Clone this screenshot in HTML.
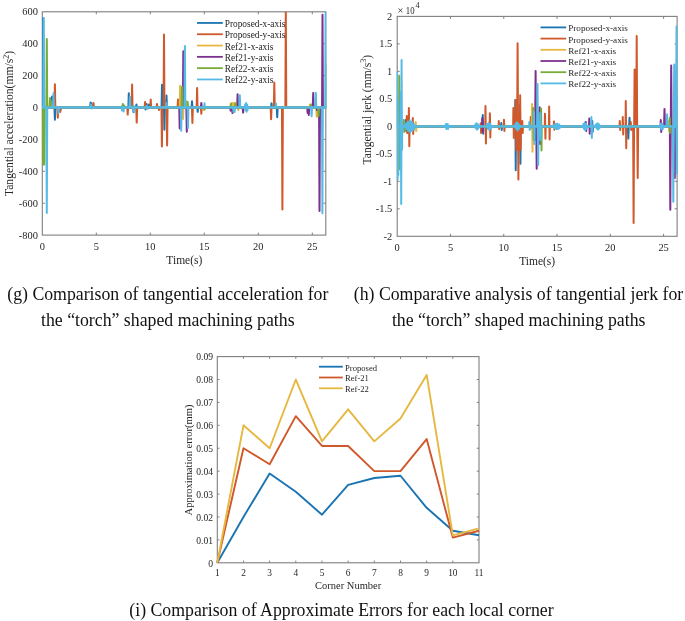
<!DOCTYPE html><html><head><meta charset="utf-8"><style>html,body{margin:0;padding:0;background:#fff;width:685px;height:621px;overflow:hidden}svg{display:block;filter:blur(0.5px)}text{font-family:"Liberation Serif", serif}</style></head><body>
<svg width="685" height="621" viewBox="0 0 685 621">
<rect width="685" height="621" fill="#fff"/>
<clipPath id="cg"><rect x="41.699999999999996" y="11.8" width="284.7" height="223.29999999999998"/></clipPath>
<rect x="42.3" y="11.8" width="283.5" height="223.29999999999998" fill="none" stroke="#7f7f7f" stroke-width="1.1"/>
<path d="M96.30,235.1 v-2.5 M96.30,11.8 v2.5 M150.30,235.1 v-2.5 M150.30,11.8 v2.5 M204.30,235.1 v-2.5 M204.30,11.8 v2.5 M258.30,235.1 v-2.5 M258.30,11.8 v2.5 M312.30,235.1 v-2.5 M312.30,11.8 v2.5 " stroke="#7f7f7f" stroke-width="1" fill="none"/>
<path d="M42.3,43.70 h2.5 M325.8,43.70 h-2.5 M42.3,75.60 h2.5 M325.8,75.60 h-2.5 M42.3,107.50 h2.5 M325.8,107.50 h-2.5 M42.3,139.40 h2.5 M325.8,139.40 h-2.5 M42.3,171.30 h2.5 M325.8,171.30 h-2.5 M42.3,203.20 h2.5 M325.8,203.20 h-2.5 " stroke="#7f7f7f" stroke-width="1" fill="none"/>
<g clip-path="url(#cg)" fill="none" stroke-width="2.0" stroke-linejoin="round">
<path d="M42.30,107.40 L42.75,107.40 L43.20,18.00 L43.65,107.40 L51.55,107.40 L52.00,96.60 L52.45,107.40 L54.45,107.40 L54.90,119.80 L55.35,107.40 L60.05,107.40 L60.50,110.00 L60.95,107.40 L90.15,107.40 L90.60,102.40 L91.05,107.40 L91.15,107.40 L91.60,103.50 L92.05,107.40 L128.35,107.40 L128.80,93.30 L129.25,107.40 L129.15,107.40 L129.60,97.00 L130.05,107.40 L133.05,107.40 L133.50,112.20 L133.95,107.40 L135.95,107.40 L136.40,104.50 L136.85,107.40 L145.15,107.40 L145.60,109.50 L146.05,107.40 L146.15,107.40 L146.60,104.00 L147.05,107.40 L148.55,107.40 L149.00,104.50 L149.45,107.40 L161.55,107.40 L162.00,84.70 L162.45,107.40 L163.95,107.40 L164.40,129.70 L164.85,107.40 L166.05,107.40 L166.50,95.50 L166.95,107.40 L191.55,107.40 L192.00,101.30 L192.45,107.40 L197.25,107.40 L197.70,111.80 L198.15,107.40 L233.55,107.40 L234.00,104.00 L234.45,107.40 L271.05,107.40 L271.50,103.30 L271.95,107.40 L276.75,107.40 L277.20,117.30 L277.65,107.40 L325.80,107.40" stroke="#1a74b2"/>
<path d="M42.30,107.40 L54.45,107.40 L54.90,84.30 L55.35,107.40 L57.35,107.40 L57.80,117.80 L58.25,107.40 L59.75,107.40 L60.20,112.00 L60.65,107.40 L93.05,107.40 L93.50,103.00 L93.95,107.40 L127.25,107.40 L127.70,114.60 L128.15,107.40 L131.65,107.40 L132.10,84.40 L132.55,107.40 L136.25,107.40 L136.70,122.60 L137.15,107.40 L144.65,107.40 L145.10,101.90 L145.55,107.40 L147.55,107.40 L148.00,108.50 L148.45,107.40 L150.25,107.40 L150.70,99.50 L151.15,107.40 L156.55,107.40 L157.00,104.00 L157.45,107.40 L158.55,107.40 L159.00,110.00 L159.45,107.40 L161.45,107.40 L161.90,146.40 L162.35,107.40 L163.55,107.40 L164.00,34.40 L164.45,107.40 L166.65,107.40 L167.10,145.40 L167.55,107.40 L177.55,107.40 L178.00,99.50 L178.45,107.40 L191.95,107.40 L192.40,123.00 L192.85,107.40 L196.65,107.40 L197.10,88.00 L197.55,107.40 L200.85,107.40 L201.30,113.80 L201.75,107.40 L270.65,107.40 L271.10,119.30 L271.55,107.40 L273.85,107.40 L274.30,82.60 L274.75,107.40 L281.95,107.40 L282.40,209.60 L282.85,107.40 L285.35,107.40 L285.80,8.00 L286.25,107.40 L325.80,107.40" stroke="#d0582a"/>
<path d="M42.30,107.40 L50.05,107.40 L50.50,101.00 L50.95,107.40 L179.65,107.40 L180.10,85.70 L180.55,107.40 L182.55,107.40 L183.00,119.00 L183.45,107.40 L185.55,107.40 L186.00,101.00 L186.45,107.40 L203.05,107.40 L203.50,110.00 L203.95,107.40 L231.05,107.40 L231.50,103.00 L231.95,107.40 L232.55,107.40 L233.00,103.00 L233.45,107.40 L234.35,107.40 L234.80,103.00 L235.25,107.40 L237.85,107.40 L238.30,110.20 L238.75,107.40 L309.55,107.40 L310.00,104.60 L310.45,107.40 L316.25,107.40 L316.70,116.60 L317.15,107.40 L317.15,107.40 L317.60,116.60 L318.05,107.40 L325.80,107.40" stroke="#e6b840"/>
<path d="M42.30,107.40 L179.25,107.40 L179.70,128.60 L180.15,107.40 L182.85,107.40 L183.30,51.20 L183.75,107.40 L186.35,107.40 L186.80,131.80 L187.25,107.40 L200.85,107.40 L201.30,102.90 L201.75,107.40 L230.15,107.40 L230.60,110.70 L231.05,107.40 L232.05,107.40 L232.50,113.10 L232.95,107.40 L237.15,107.40 L237.60,94.30 L238.05,107.40 L242.65,107.40 L243.10,112.60 L243.55,107.40 L307.15,107.40 L307.60,113.00 L308.05,107.40 L308.35,107.40 L308.80,114.90 L309.25,107.40 L312.75,107.40 L313.20,93.00 L313.65,107.40 L316.55,107.40 L317.00,110.00 L317.45,107.40 L319.05,107.40 L319.50,211.10 L319.95,107.40 L322.05,107.40 L322.50,14.70 L322.95,107.40 L325.80,107.40" stroke="#7c318f"/>
<path d="M42.30,107.40 L42.65,107.40 L43.10,164.40 L43.55,107.40 L43.85,107.40 L44.30,164.40 L44.75,107.40 L46.35,107.40 L46.80,39.00 L47.25,107.40 L49.55,107.40 L50.00,98.00 L50.45,107.40 L122.35,107.40 L122.80,104.10 L123.25,107.40 L123.75,107.40 L124.20,105.50 L124.65,107.40 L181.55,107.40 L182.00,87.00 L182.45,107.40 L187.15,107.40 L187.60,101.70 L188.05,107.40 L204.05,107.40 L204.50,109.50 L204.95,107.40 L230.35,107.40 L230.80,104.00 L231.25,107.40 L235.05,107.40 L235.50,103.50 L235.95,107.40 L310.55,107.40 L311.00,104.60 L311.45,107.40 L318.15,107.40 L318.60,116.00 L319.05,107.40 L326.05,107.40 L326.50,64.50 L326.95,107.40 L325.80,107.40" stroke="#78ab38"/>
<line x1="42.3" y1="107.4" x2="325.8" y2="107.4" stroke="#55bbe6" stroke-width="1.6"/>
<path d="M42.30,107.40 L43.25,107.40 L43.70,17.90 L44.15,107.40 L46.35,107.40 L46.80,213.00 L47.25,107.40 L53.05,107.40 L53.50,93.20 L53.95,107.40 L58.05,107.40 L58.50,113.00 L58.95,107.40 L90.85,107.40 L91.08,104.50 L91.53,108.50 L91.75,107.40 L121.35,107.40 L121.58,106.50 L122.03,110.50 L122.25,107.40 L122.95,107.40 L123.18,107.00 L123.63,111.50 L123.85,107.40 L129.45,107.40 L129.90,97.00 L130.35,107.40 L133.35,107.40 L133.58,106.00 L134.03,112.00 L134.25,107.40 L146.55,107.40 L146.78,106.00 L147.22,108.50 L147.45,107.40 L166.05,107.40 L166.50,103.00 L166.95,107.40 L180.75,107.40 L181.20,130.70 L181.65,107.40 L184.45,107.40 L184.90,45.90 L185.35,107.40 L187.55,107.40 L188.00,128.00 L188.45,107.40 L204.05,107.40 L204.50,103.30 L204.95,107.40 L233.05,107.40 L233.50,112.00 L233.95,107.40 L234.15,107.40 L234.60,112.00 L235.05,107.40 L239.35,107.40 L239.80,95.20 L240.25,107.40 L243.85,107.40 L244.08,106.80 L244.53,108.00 L244.75,107.40 L244.85,107.40 L245.08,104.62 L245.53,110.18 L245.75,107.40 L245.85,107.40 L246.08,103.00 L246.53,111.80 L246.75,107.40 L246.85,107.40 L247.08,104.62 L247.53,110.18 L247.75,107.40 L247.85,107.40 L248.08,106.80 L248.53,108.00 L248.75,107.40 L275.55,107.40 L276.00,103.50 L276.45,107.40 L311.15,107.40 L311.60,116.20 L312.05,107.40 L315.35,107.40 L315.80,92.70 L316.25,107.40 L321.95,107.40 L322.40,213.30 L322.85,107.40 L325.15,107.40 L325.60,5.00 L326.05,107.40 L325.80,107.40" stroke="#55bbe6"/>
</g>
<text x="37.90" y="15.40" font-size="10.4" text-anchor="end" fill="#262626" >600</text>
<text x="37.90" y="47.30" font-size="10.4" text-anchor="end" fill="#262626" >400</text>
<text x="37.90" y="79.20" font-size="10.4" text-anchor="end" fill="#262626" >200</text>
<text x="37.90" y="111.10" font-size="10.4" text-anchor="end" fill="#262626" >0</text>
<text x="37.90" y="143.00" font-size="10.4" text-anchor="end" fill="#262626" >-200</text>
<text x="37.90" y="174.90" font-size="10.4" text-anchor="end" fill="#262626" >-400</text>
<text x="37.90" y="206.80" font-size="10.4" text-anchor="end" fill="#262626" >-600</text>
<text x="37.90" y="238.70" font-size="10.4" text-anchor="end" fill="#262626" >-800</text>
<text x="42.30" y="249.60" font-size="10.4" text-anchor="middle" fill="#262626" >0</text>
<text x="96.30" y="249.60" font-size="10.4" text-anchor="middle" fill="#262626" >5</text>
<text x="150.30" y="249.60" font-size="10.4" text-anchor="middle" fill="#262626" >10</text>
<text x="204.30" y="249.60" font-size="10.4" text-anchor="middle" fill="#262626" >15</text>
<text x="258.30" y="249.60" font-size="10.4" text-anchor="middle" fill="#262626" >20</text>
<text x="312.30" y="249.60" font-size="10.4" text-anchor="middle" fill="#262626" >25</text>
<text x="184.35" y="264.30" font-size="11.5" text-anchor="middle" fill="#262626" >Time(s)</text>
<text transform="translate(13.0,123.5) rotate(-90)" font-size="11.6" text-anchor="middle" fill="#262626">Tangential acceleration(mm/s<tspan font-size="8" dy="-4.5">2</tspan><tspan dy="4.5">)</tspan></text>
<line x1="197" y1="22.95" x2="222.8" y2="22.95" stroke="#1a74b2" stroke-width="1.8"/>
<text x="224.70" y="26.95" font-size="9.35" text-anchor="start" fill="#262626" >Proposed-x-axis</text>
<line x1="197" y1="34.25" x2="222.8" y2="34.25" stroke="#d0582a" stroke-width="1.8"/>
<text x="224.70" y="38.25" font-size="9.35" text-anchor="start" fill="#262626" >Proposed-y-axis</text>
<line x1="197" y1="45.55" x2="222.8" y2="45.55" stroke="#e6b840" stroke-width="1.8"/>
<text x="224.70" y="49.55" font-size="9.35" text-anchor="start" fill="#262626" >Ref21-x-axis</text>
<line x1="197" y1="56.85" x2="222.8" y2="56.85" stroke="#7c318f" stroke-width="1.8"/>
<text x="224.70" y="60.85" font-size="9.35" text-anchor="start" fill="#262626" >Ref21-y-axis</text>
<line x1="197" y1="68.15" x2="222.8" y2="68.15" stroke="#78ab38" stroke-width="1.8"/>
<text x="224.70" y="72.15" font-size="9.35" text-anchor="start" fill="#262626" >Ref22-x-axis</text>
<line x1="197" y1="79.45" x2="222.8" y2="79.45" stroke="#55bbe6" stroke-width="1.8"/>
<text x="224.70" y="83.45" font-size="9.35" text-anchor="start" fill="#262626" >Ref22-y-axis</text>
<clipPath id="ch"><rect x="396.59999999999997" y="16.4" width="281.1" height="219.9"/></clipPath>
<rect x="397.2" y="16.4" width="279.90000000000003" height="219.9" fill="none" stroke="#7f7f7f" stroke-width="1.1"/>
<path d="M450.48,236.3 v-2.5 M450.48,16.4 v2.5 M503.76,236.3 v-2.5 M503.76,16.4 v2.5 M557.04,236.3 v-2.5 M557.04,16.4 v2.5 M610.32,236.3 v-2.5 M610.32,16.4 v2.5 M663.60,236.3 v-2.5 M663.60,16.4 v2.5 " stroke="#7f7f7f" stroke-width="1" fill="none"/>
<path d="M397.2,43.89 h2.5 M677.1,43.89 h-2.5 M397.2,71.38 h2.5 M677.1,71.38 h-2.5 M397.2,98.86 h2.5 M677.1,98.86 h-2.5 M397.2,126.35 h2.5 M677.1,126.35 h-2.5 M397.2,153.84 h2.5 M677.1,153.84 h-2.5 M397.2,181.33 h2.5 M677.1,181.33 h-2.5 M397.2,208.81 h2.5 M677.1,208.81 h-2.5 " stroke="#7f7f7f" stroke-width="1" fill="none"/>
<g clip-path="url(#ch)" fill="none" stroke-width="2.0" stroke-linejoin="round">
<path d="M397.20,126.40 L398.55,126.40 L398.77,100.00 L399.22,150.00 L399.45,126.40 L405.55,126.40 L405.77,120.00 L406.22,131.00 L406.45,126.40 L411.55,126.40 L411.77,122.00 L412.22,130.00 L412.45,126.40 L482.55,126.40 L482.77,114.90 L483.22,133.80 L483.45,126.40 L501.05,126.40 L501.27,123.00 L501.72,130.00 L501.95,126.40 L515.05,126.40 L515.27,100.00 L515.73,170.30 L515.95,126.40 L519.75,126.40 L519.98,105.00 L520.43,163.80 L520.65,126.40 L534.55,126.40 L534.77,112.00 L535.23,140.00 L535.45,126.40 L592.05,126.40 L592.27,121.00 L592.73,132.00 L592.95,126.40 L627.85,126.40 L628.30,138.60 L628.75,126.40 L629.05,126.40 L629.50,117.80 L629.95,126.40 L677.10,126.40" stroke="#1a74b2"/>
<path d="M397.20,126.40 L406.55,126.40 L406.77,116.00 L407.22,133.00 L407.45,126.40 L408.65,126.40 L408.88,108.00 L409.32,146.30 L409.55,126.40 L412.55,126.40 L412.77,118.00 L413.22,134.00 L413.45,126.40 L480.45,126.40 L480.67,123.30 L481.12,133.00 L481.35,126.40 L485.25,126.40 L485.47,106.00 L485.92,143.50 L486.15,126.40 L489.65,126.40 L489.88,113.30 L490.32,137.40 L490.55,126.40 L498.55,126.40 L498.77,121.00 L499.22,129.00 L499.45,126.40 L503.75,126.40 L503.97,119.70 L504.42,131.00 L504.65,126.40 L513.15,126.40 L513.38,108.00 L513.83,138.00 L514.05,126.40 L515.55,126.40 L515.77,100.00 L516.23,150.00 L516.45,126.40 L517.15,126.40 L517.60,43.20 L518.05,126.40 L517.95,126.40 L518.40,179.50 L518.85,126.40 L519.95,126.40 L520.17,95.20 L520.62,150.00 L520.85,126.40 L522.05,126.40 L522.27,121.00 L522.73,133.00 L522.95,126.40 L530.55,126.40 L530.77,116.90 L531.23,128.50 L531.45,126.40 L544.75,126.40 L544.98,113.70 L545.43,138.80 L545.65,126.40 L548.95,126.40 L549.17,106.60 L549.62,139.50 L549.85,126.40 L553.75,126.40 L553.98,121.40 L554.43,129.80 L554.65,126.40 L619.55,126.40 L619.77,121.00 L620.23,130.00 L620.45,126.40 L622.55,126.40 L622.77,117.00 L623.23,134.50 L623.45,126.40 L625.55,126.40 L625.77,100.90 L626.23,148.30 L626.45,126.40 L630.55,126.40 L630.77,122.00 L631.23,130.00 L631.45,126.40 L633.15,126.40 L633.60,223.10 L634.05,126.40 L634.15,126.40 L634.60,69.50 L635.05,126.40 L636.25,126.40 L636.70,36.10 L637.15,126.40 L637.25,126.40 L637.70,178.10 L638.15,126.40 L677.10,126.40" stroke="#d0582a"/>
<path d="M397.20,126.40 L415.55,126.40 L415.77,122.00 L416.22,131.00 L416.45,126.40 L531.85,126.40 L532.07,104.00 L532.52,151.70 L532.75,126.40 L539.55,126.40 L539.77,110.00 L540.23,140.00 L540.45,126.40 L668.55,126.40 L668.77,121.00 L669.23,131.00 L669.45,126.40 L677.10,126.40" stroke="#e6b840"/>
<path d="M397.20,126.40 L482.05,126.40 L482.27,118.00 L482.72,132.00 L482.95,126.40 L535.15,126.40 L535.60,71.00 L536.05,126.40 L536.25,126.40 L536.70,168.70 L537.15,126.40 L539.35,126.40 L539.57,107.20 L540.02,144.00 L540.25,126.40 L585.55,126.40 L585.77,122.00 L586.23,131.00 L586.45,126.40 L589.05,126.40 L589.27,118.50 L589.73,133.70 L589.95,126.40 L660.55,126.40 L660.77,120.00 L661.23,132.00 L661.45,126.40 L664.05,126.40 L664.50,108.90 L664.95,126.40 L669.85,126.40 L670.30,209.80 L670.75,126.40 L670.75,126.40 L671.20,65.50 L671.65,126.40 L674.35,126.40 L674.80,177.90 L675.25,126.40 L677.10,126.40" stroke="#7c318f"/>
<path d="M397.20,126.40 L399.05,126.40 L399.27,75.80 L399.72,169.30 L399.95,126.40 L403.55,126.40 L403.77,120.00 L404.22,132.00 L404.45,126.40 L533.05,126.40 L533.27,108.00 L533.73,140.00 L533.95,126.40 L540.85,126.40 L541.07,108.50 L541.52,150.40 L541.75,126.40 L669.55,126.40 L669.77,118.00 L670.23,133.00 L670.45,126.40 L677.10,126.40" stroke="#78ab38"/>
<line x1="397.2" y1="126.4" x2="677.1" y2="126.4" stroke="#55bbe6" stroke-width="1.6"/>
<path d="M397.20,126.40 L396.95,126.40 L397.17,72.50 L397.62,179.40 L397.85,126.40 L397.65,126.40 L397.88,100.00 L398.32,175.00 L398.55,126.40 L400.55,126.40 L400.77,92.00 L401.22,204.00 L401.45,126.40 L401.35,126.40 L401.57,60.00 L402.02,150.00 L402.25,126.40 L403.55,126.40 L403.77,125.80 L404.22,127.00 L404.45,126.40 L405.55,126.40 L405.77,123.52 L406.22,129.28 L406.45,126.40 L406.05,126.40 L406.27,125.80 L406.72,127.00 L406.95,126.40 L407.55,126.40 L407.77,121.82 L408.22,130.98 L408.45,126.40 L407.88,126.40 L408.11,124.35 L408.56,128.45 L408.78,126.40 L409.55,126.40 L409.77,120.30 L410.22,132.50 L410.45,126.40 L409.72,126.40 L409.94,124.35 L410.39,128.45 L410.62,126.40 L411.55,126.40 L411.77,121.82 L412.22,130.98 L412.45,126.40 L411.55,126.40 L411.77,125.80 L412.22,127.00 L412.45,126.40 L413.55,126.40 L413.77,123.52 L414.22,129.28 L414.45,126.40 L415.55,126.40 L415.77,125.80 L416.22,127.00 L416.45,126.40 L444.05,126.40 L444.27,125.80 L444.72,127.00 L444.95,126.40 L445.72,126.40 L445.94,123.92 L446.39,128.88 L446.62,126.40 L447.38,126.40 L447.61,123.92 L448.06,128.88 L448.28,126.40 L449.05,126.40 L449.27,125.80 L449.72,127.00 L449.95,126.40 L473.95,126.40 L474.17,125.80 L474.62,127.00 L474.85,126.40 L475.18,126.40 L475.40,124.31 L475.85,128.49 L476.07,126.40 L476.40,126.40 L476.62,123.20 L477.07,129.60 L477.30,126.40 L477.62,126.40 L477.85,124.31 L478.30,128.49 L478.52,126.40 L478.85,126.40 L479.07,125.80 L479.52,127.00 L479.75,126.40 L485.55,126.40 L485.77,125.80 L486.22,127.00 L486.45,126.40 L487.05,126.40 L487.27,124.08 L487.72,128.72 L487.95,126.40 L488.55,126.40 L488.77,122.80 L489.22,130.00 L489.45,126.40 L490.05,126.40 L490.27,124.08 L490.72,128.72 L490.95,126.40 L491.55,126.40 L491.77,125.80 L492.22,127.00 L492.45,126.40 L514.05,126.40 L514.27,125.80 L514.73,127.00 L514.95,126.40 L515.42,126.40 L515.65,123.79 L516.10,129.01 L516.33,126.40 L516.80,126.40 L517.02,122.30 L517.48,130.50 L517.70,126.40 L518.17,126.40 L518.40,123.79 L518.85,129.01 L519.08,126.40 L519.55,126.40 L519.77,125.80 L520.23,127.00 L520.45,126.40 L529.05,126.40 L529.27,122.00 L529.73,130.00 L529.95,126.40 L533.75,126.40 L533.98,111.80 L534.43,144.00 L534.65,126.40 L537.05,126.40 L537.50,84.00 L537.95,126.40 L537.75,126.40 L538.20,165.00 L538.65,126.40 L539.95,126.40 L540.17,113.00 L540.62,140.00 L540.85,126.40 L552.55,126.40 L552.77,125.80 L553.23,127.00 L553.45,126.40 L554.15,126.40 L554.38,124.60 L554.83,128.20 L555.05,126.40 L555.75,126.40 L555.98,123.71 L556.43,129.09 L556.65,126.40 L557.35,126.40 L557.57,123.71 L558.02,129.09 L558.25,126.40 L558.95,126.40 L559.17,124.60 L559.62,128.20 L559.85,126.40 L560.55,126.40 L560.77,125.80 L561.23,127.00 L561.45,126.40 L581.95,126.40 L582.17,125.80 L582.62,127.00 L582.85,126.40 L583.22,126.40 L583.45,123.96 L583.90,128.84 L584.12,126.40 L584.50,126.40 L584.73,122.60 L585.18,130.20 L585.40,126.40 L585.77,126.40 L586.00,123.96 L586.45,128.84 L586.68,126.40 L587.05,126.40 L587.27,125.80 L587.73,127.00 L587.95,126.40 L591.15,126.40 L591.38,117.00 L591.83,137.90 L592.05,126.40 L594.55,126.40 L594.77,125.80 L595.23,127.00 L595.45,126.40 L595.92,126.40 L596.15,124.31 L596.60,128.49 L596.83,126.40 L597.30,126.40 L597.52,123.20 L597.98,129.60 L598.20,126.40 L598.67,126.40 L598.90,124.31 L599.35,128.49 L599.58,126.40 L600.05,126.40 L600.27,125.80 L600.73,127.00 L600.95,126.40 L659.05,126.40 L659.27,125.80 L659.73,127.00 L659.95,126.40 L660.55,126.40 L660.77,123.63 L661.23,129.17 L661.45,126.40 L662.05,126.40 L662.27,123.63 L662.73,129.17 L662.95,126.40 L663.55,126.40 L663.77,125.80 L664.23,127.00 L664.45,126.40 L666.65,126.40 L667.10,114.20 L667.55,126.40 L672.85,126.40 L673.30,201.80 L673.75,126.40 L673.75,126.40 L674.20,64.60 L674.65,126.40 L676.05,126.40 L676.50,26.50 L676.95,126.40 L676.45,126.40 L676.90,173.50 L677.35,126.40 L677.10,126.40" stroke="#55bbe6"/>
</g>
<text x="392.20" y="20.00" font-size="10.4" text-anchor="end" fill="#262626" >2</text>
<text x="392.20" y="47.49" font-size="10.4" text-anchor="end" fill="#262626" >1.5</text>
<text x="392.20" y="74.97" font-size="10.4" text-anchor="end" fill="#262626" >1</text>
<text x="392.20" y="102.46" font-size="10.4" text-anchor="end" fill="#262626" >0.5</text>
<text x="392.20" y="129.95" font-size="10.4" text-anchor="end" fill="#262626" >0</text>
<text x="392.20" y="157.44" font-size="10.4" text-anchor="end" fill="#262626" >-0.5</text>
<text x="392.20" y="184.93" font-size="10.4" text-anchor="end" fill="#262626" >-1</text>
<text x="392.20" y="212.41" font-size="10.4" text-anchor="end" fill="#262626" >-1.5</text>
<text x="392.20" y="239.90" font-size="10.4" text-anchor="end" fill="#262626" >-2</text>
<text x="397.20" y="250.50" font-size="10.4" text-anchor="middle" fill="#262626" >0</text>
<text x="450.48" y="250.50" font-size="10.4" text-anchor="middle" fill="#262626" >5</text>
<text x="503.76" y="250.50" font-size="10.4" text-anchor="middle" fill="#262626" >10</text>
<text x="557.04" y="250.50" font-size="10.4" text-anchor="middle" fill="#262626" >15</text>
<text x="610.32" y="250.50" font-size="10.4" text-anchor="middle" fill="#262626" >20</text>
<text x="663.60" y="250.50" font-size="10.4" text-anchor="middle" fill="#262626" >25</text>
<text x="537.15" y="265.30" font-size="11.5" text-anchor="middle" fill="#262626" >Time(s)</text>
<text x="397.5" y="14.4" font-size="10.4" fill="#262626">×</text>
<text x="405.8" y="13.6" font-size="10.6" textLength="8.7" lengthAdjust="spacingAndGlyphs" fill="#262626">10</text>
<text x="415.5" y="8.3" font-size="8.2" fill="#262626">4</text>
<text transform="translate(370.8,109.65) rotate(-90)" font-size="11.55" text-anchor="middle" fill="#262626">Tangential jerk (mm/s<tspan font-size="8" dy="-4.5">3</tspan><tspan dy="4.5">)</tspan></text>
<line x1="540.5" y1="27.40" x2="566.2" y2="27.40" stroke="#1a74b2" stroke-width="1.8"/>
<text x="568.20" y="31.40" font-size="9.2" text-anchor="start" fill="#262626" >Proposed-x-axis</text>
<line x1="540.5" y1="38.60" x2="566.2" y2="38.60" stroke="#d0582a" stroke-width="1.8"/>
<text x="568.20" y="42.60" font-size="9.2" text-anchor="start" fill="#262626" >Proposed-y-axis</text>
<line x1="540.5" y1="49.80" x2="566.2" y2="49.80" stroke="#e6b840" stroke-width="1.8"/>
<text x="568.20" y="53.80" font-size="9.2" text-anchor="start" fill="#262626" >Ref21-x-axis</text>
<line x1="540.5" y1="61.00" x2="566.2" y2="61.00" stroke="#7c318f" stroke-width="1.8"/>
<text x="568.20" y="65.00" font-size="9.2" text-anchor="start" fill="#262626" >Ref21-y-axis</text>
<line x1="540.5" y1="72.20" x2="566.2" y2="72.20" stroke="#78ab38" stroke-width="1.8"/>
<text x="568.20" y="76.20" font-size="9.2" text-anchor="start" fill="#262626" >Ref22-x-axis</text>
<line x1="540.5" y1="83.40" x2="566.2" y2="83.40" stroke="#55bbe6" stroke-width="1.8"/>
<text x="568.20" y="87.40" font-size="9.2" text-anchor="start" fill="#262626" >Ref22-y-axis</text>
<rect x="217.3" y="356.6" width="261.7" height="206.19999999999993" fill="none" stroke="#7f7f7f" stroke-width="1.1"/>
<path d="M243.47,562.8 v-2.2 M243.47,356.6 v2.2 M269.64,562.8 v-2.2 M269.64,356.6 v2.2 M295.81,562.8 v-2.2 M295.81,356.6 v2.2 M321.98,562.8 v-2.2 M321.98,356.6 v2.2 M348.15,562.8 v-2.2 M348.15,356.6 v2.2 M374.32,562.8 v-2.2 M374.32,356.6 v2.2 M400.49,562.8 v-2.2 M400.49,356.6 v2.2 M426.66,562.8 v-2.2 M426.66,356.6 v2.2 M452.83,562.8 v-2.2 M452.83,356.6 v2.2 " stroke="#7f7f7f" stroke-width="1" fill="none"/>
<path d="M217.3,539.89 h2.2 M479.0,539.89 h-2.2 M217.3,516.98 h2.2 M479.0,516.98 h-2.2 M217.3,494.07 h2.2 M479.0,494.07 h-2.2 M217.3,471.16 h2.2 M479.0,471.16 h-2.2 M217.3,448.24 h2.2 M479.0,448.24 h-2.2 M217.3,425.33 h2.2 M479.0,425.33 h-2.2 M217.3,402.42 h2.2 M479.0,402.42 h-2.2 M217.3,379.51 h2.2 M479.0,379.51 h-2.2 " stroke="#7f7f7f" stroke-width="1" fill="none"/>
<polyline points="217.30,562.80 243.47,516.98 269.64,473.45 295.81,491.78 321.98,514.69 348.15,484.90 374.32,478.03 400.49,475.74 426.66,507.81 452.83,530.72 479.00,535.31" fill="none" stroke="#1a74b2" stroke-width="1.9" stroke-linejoin="round"/>
<polyline points="217.30,562.80 243.47,448.24 269.64,464.28 295.81,416.17 321.98,445.95 348.15,445.95 374.32,471.16 400.49,471.16 426.66,439.08 452.83,537.60 479.00,530.72" fill="none" stroke="#d0582a" stroke-width="1.9" stroke-linejoin="round"/>
<polyline points="217.30,562.80 243.47,425.33 269.64,448.24 295.81,379.51 321.98,441.37 348.15,409.30 374.32,441.37 400.49,418.46 426.66,374.93 452.83,535.31 479.00,528.43" fill="none" stroke="#e6b840" stroke-width="1.9" stroke-linejoin="round"/>
<text x="213.10" y="566.60" font-size="9.6" text-anchor="end" fill="#262626" >0</text>
<text x="213.10" y="543.69" font-size="9.6" text-anchor="end" fill="#262626" >0.01</text>
<text x="213.10" y="520.78" font-size="9.6" text-anchor="end" fill="#262626" >0.02</text>
<text x="213.10" y="497.87" font-size="9.6" text-anchor="end" fill="#262626" >0.03</text>
<text x="213.10" y="474.96" font-size="9.6" text-anchor="end" fill="#262626" >0.04</text>
<text x="213.10" y="452.04" font-size="9.6" text-anchor="end" fill="#262626" >0.05</text>
<text x="213.10" y="429.13" font-size="9.6" text-anchor="end" fill="#262626" >0.06</text>
<text x="213.10" y="406.22" font-size="9.6" text-anchor="end" fill="#262626" >0.07</text>
<text x="213.10" y="383.31" font-size="9.6" text-anchor="end" fill="#262626" >0.08</text>
<text x="213.10" y="360.40" font-size="9.6" text-anchor="end" fill="#262626" >0.09</text>
<text x="217.30" y="576.00" font-size="9.4" text-anchor="middle" fill="#262626" >1</text>
<text x="243.47" y="576.00" font-size="9.4" text-anchor="middle" fill="#262626" >2</text>
<text x="269.64" y="576.00" font-size="9.4" text-anchor="middle" fill="#262626" >3</text>
<text x="295.81" y="576.00" font-size="9.4" text-anchor="middle" fill="#262626" >4</text>
<text x="321.98" y="576.00" font-size="9.4" text-anchor="middle" fill="#262626" >5</text>
<text x="348.15" y="576.00" font-size="9.4" text-anchor="middle" fill="#262626" >6</text>
<text x="374.32" y="576.00" font-size="9.4" text-anchor="middle" fill="#262626" >7</text>
<text x="400.49" y="576.00" font-size="9.4" text-anchor="middle" fill="#262626" >8</text>
<text x="426.66" y="576.00" font-size="9.4" text-anchor="middle" fill="#262626" >9</text>
<text x="452.83" y="576.00" font-size="9.4" text-anchor="middle" fill="#262626" >10</text>
<text x="479.00" y="576.00" font-size="9.4" text-anchor="middle" fill="#262626" >11</text>
<text x="348.15" y="588.50" font-size="10.5" text-anchor="middle" fill="#262626" >Corner Number</text>
<text transform="translate(191.9,460) rotate(-90)" font-size="10.54" text-anchor="middle" fill="#262626">Approximation error(mm)</text>
<line x1="319" y1="366.70" x2="342.8" y2="366.70" stroke="#1a74b2" stroke-width="1.8"/>
<text x="345.00" y="370.50" font-size="8.6" text-anchor="start" fill="#262626" >Proposed</text>
<line x1="319" y1="377.50" x2="342.8" y2="377.50" stroke="#d0582a" stroke-width="1.8"/>
<text x="345.00" y="381.30" font-size="8.6" text-anchor="start" fill="#262626" >Ref-21</text>
<line x1="319" y1="388.30" x2="342.8" y2="388.30" stroke="#e6b840" stroke-width="1.8"/>
<text x="345.00" y="392.10" font-size="8.6" text-anchor="start" fill="#262626" >Ref-22</text>
<text x="167.80" y="300.00" font-size="17.78" text-anchor="middle" fill="#111" >(g) Comparison of tangential acceleration for</text>
<text x="167.80" y="326.00" font-size="17.78" text-anchor="middle" fill="#111" >the “torch” shaped machining paths</text>
<text x="518.50" y="300.00" font-size="17.78" text-anchor="middle" fill="#111" >(h) Comparative analysis of tangential jerk for</text>
<text x="518.70" y="326.00" font-size="17.78" text-anchor="middle" fill="#111" >the “torch” shaped machining paths</text>
<text x="341.45" y="616.40" font-size="17.78" text-anchor="middle" fill="#111" >(i) Comparison of Approximate Errors for each local corner</text>
</svg></body></html>
